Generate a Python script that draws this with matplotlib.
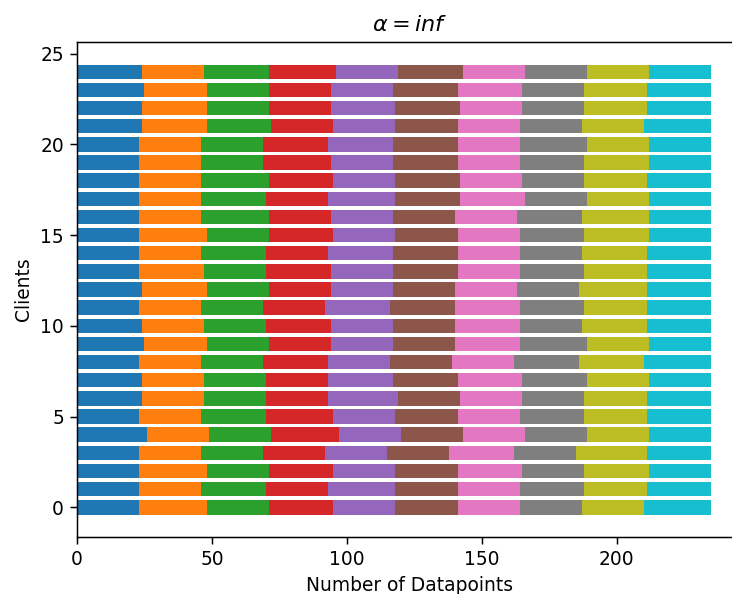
import numpy as np
import matplotlib
matplotlib.use("Agg")
import matplotlib.pyplot as plt

clients = list(range(25))
class_0 = [23,23,23,23,26,23,24,24,23,25,24,23,24,23,23,23,23,23,23,23,23,24,24,25,24]
class_1 = [25,23,25,23,23,23,23,23,23,23,23,23,24,24,23,25,23,23,23,23,23,24,24,23,23]
class_2 = [23,24,23,23,23,24,23,23,23,23,23,23,23,23,24,23,25,24,25,23,23,24,23,23,24]
class_3 = [24,23,24,23,25,25,23,23,24,23,24,23,23,24,23,24,23,23,24,25,24,23,23,23,25]
class_4 = [23,25,23,23,23,23,26,24,23,23,23,24,23,23,24,23,23,25,23,23,24,23,24,23,23]
class_5 = [23,23,23,23,23,23,23,24,23,23,23,24,23,24,24,23,23,24,24,24,24,23,24,24,24]
class_6 = [23,23,24,24,23,23,23,24,23,24,24,24,23,23,23,23,23,24,23,23,23,23,23,24,23]
class_7 = [23,24,23,23,23,24,23,24,24,25,23,24,23,24,23,24,24,23,23,24,25,23,23,23,23]
class_8 = [23,23,24,26,23,23,23,23,24,23,24,23,25,23,24,24,25,23,23,24,23,23,23,23,23]
class_9 = [25,24,23,24,23,24,24,23,25,23,24,24,24,24,24,23,23,23,24,23,23,25,24,24,23]
classes = [class_0, class_1, class_2, class_3, class_4,
           class_5, class_6, class_7, class_8, class_9]

DPI = 134
fig = plt.figure(figsize=(732 / DPI, 594 / DPI), dpi=DPI)
ax = fig.add_axes([77 / 732, 57 / 594, 666 / 732, 495 / 594])

left = np.zeros(len(clients))
for i, vals in enumerate(classes):
    ax.barh(clients, vals, left=left, color=f"C{i}")
    left += np.array(vals)

ax.set_title(r"$\alpha = inf$")
ax.set_xlabel("Number of Datapoints")
ax.set_ylabel("Clients")
# the reference image is cut at its right edge, past the bars,
# so its right spine is not visible
ax.spines["right"].set_visible(False)

fig.savefig("out.png", dpi=DPI)
